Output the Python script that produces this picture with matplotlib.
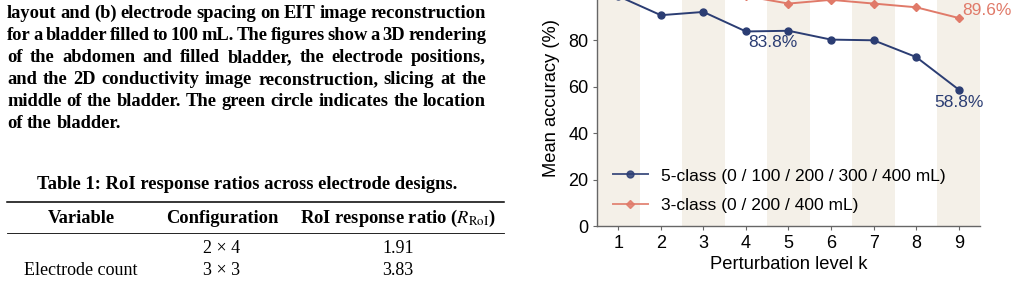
import matplotlib
matplotlib.use("Agg")
import matplotlib.pyplot as plt

# chart data
levels = [1, 2, 3, 4, 5, 6, 7, 8, 9]
acc_5class = [99.0, 90.8, 92.2, 83.8, 84.1, 80.3, 80.0, 72.8, 58.8]
acc_3class = [100.0, 100.0, 99.8, 99.0, 95.8, 97.4, 95.8, 94.2, 89.6]
label_5class = "5-class (0 / 100 / 200 / 300 / 400 mL)"
label_3class = "3-class (0 / 200 / 400 mL)"
yticks = [0, 20, 40, 60, 80, 100]

# page text on the left
caption_lines = [
    "layout and (b) electrode spacing on EIT image reconstruction",
    "for a bladder filled to 100 mL. The figures show a 3D rendering",
    "of the abdomen and filled bladder, the electrode positions,",
    "and the 2D conductivity image reconstruction, slicing at the",
    "middle of the bladder. The green circle indicates the location",
    "of the bladder.",
]
table_title = "Table 1: RoI response ratios across electrode designs."
table_header = ["Variable", "Configuration", r"RoI response ratio ($R_{\mathrm{RoI}}$)"]
table_rows = [
    ["", "2 \u00d7 4", "1.91"],
    ["Electrode count", "3 \u00d7 3", "3.83"],
]

NAVY = "#2b3d73"
SALMON = "#e07a69"
BAND = "#f4f0e8"

W, H = 1016, 283
fig = plt.figure(figsize=(W / 100, H / 100), dpi=100)
plt.rcParams["mathtext.fontset"] = "stix"
renderer = fig.canvas.get_renderer()


def px(x, y):
    return x / W, 1 - y / H


serif = "Liberation Serif"


def justify(line, y, x0, x1, last=False, **kw):
    words = line.split()
    txts = [fig.text(0, 0, w, va="baseline", ha="left", **kw) for w in words]
    widths = [t.get_window_extent(renderer).width for t in txts]
    space = fig.text(0, 0, "a a", **kw)
    sp = space.get_window_extent(renderer).width
    space.remove()
    space = fig.text(0, 0, "aa", **kw)
    sp -= space.get_window_extent(renderer).width
    space.remove()
    gap = sp if last else (x1 - x0 - sum(widths)) / (len(words) - 1)
    x = x0
    for t, w in zip(txts, widths):
        t.set_position(px(x, y))
        x += w + gap


for i, line in enumerate(caption_lines):
    justify(line, 18.3 + 22.0 * i, 7, 486, last=(i == len(caption_lines) - 1),
            family=serif, weight="bold", fontsize=13.3)

# table
fig.text(*px(247, 189), table_title, family=serif, weight="bold",
         fontsize=13.4, ha="center", va="baseline")
fig.add_artist(plt.Line2D([7 / W, 504 / W], [1 - 201.7 / H] * 2, color="black", lw=1.1))
fig.add_artist(plt.Line2D([7 / W, 504 / W], [1 - 233.3 / H] * 2, color="black", lw=0.6))
col_x = [81, 222, 398]
for cx, h in zip(col_x, table_header):
    fig.text(*px(cx, 223.3), h, family=serif, weight="bold", fontsize=13.3,
             ha="center", va="baseline")
for ry, row in zip([253.3, 275.0], table_rows):
    for cx, cell in zip(col_x, row):
        fig.text(*px(cx, ry), cell, family=serif, fontsize=13,
                 ha="center", va="baseline")

# chart
sans = "Liberation Sans"
ax = fig.add_axes([597 / W, 1 - 226.3 / H, 383 / W, 255.75 / H])
for k in levels:
    if k % 2 == 1:
        ax.axvspan(k - 0.5, k + 0.5, color=BAND, lw=0, zorder=0)

ax.plot(levels, acc_5class, color=NAVY, lw=1.4, marker="o", ms=5,
        label=label_5class, zorder=3)
ax.plot(levels, acc_3class, color=SALMON, lw=1.4, marker="D", ms=4.5,
        label=label_3class, zorder=3)

ax.annotate(f"{acc_5class[3]:.1f}%", (levels[3], acc_5class[3]), xytext=(2, -8),
            textcoords="offset points", ha="left", va="center", color=NAVY,
            fontsize=12.5, family=sans)
ax.annotate(f"{acc_5class[8]:.1f}%", (levels[8], acc_5class[8]), xytext=(0, -9.6),
            textcoords="offset points", ha="center", va="center", color=NAVY,
            fontsize=12.5, family=sans)
ax.annotate(f"{acc_3class[8]:.1f}%", (levels[8], acc_3class[8]), xytext=(2.5, 5.3),
            textcoords="offset points", ha="left", va="center", color=SALMON,
            fontsize=12.5, family=sans, annotation_clip=False)

ax.set_xlim(0.5, 9.5)
ax.set_ylim(0, 110)
ax.set_xticks(levels)
ax.set_yticks(yticks)
for s in ["top", "right"]:
    ax.spines[s].set_visible(False)
for s in ["left", "bottom"]:
    ax.spines[s].set_color("#666666")
    ax.spines[s].set_linewidth(1.0)
ax.tick_params(length=3, width=0.8, color="#666666", labelsize=13, pad=3)
for lab in ax.get_xticklabels() + ax.get_yticklabels():
    lab.set_family(sans)
ax.set_xlabel("Perturbation level k", family=sans, fontsize=13.2, labelpad=3)
ax.set_ylabel("Mean accuracy (%)", family=sans, fontsize=13.2, labelpad=-1)

leg = ax.legend(loc="center left", bbox_to_anchor=(0.042, 0.14), frameon=False,
                prop={"family": sans, "size": 12.5}, numpoints=1, handlelength=2.0,
                handletextpad=0.75, labelspacing=0.8, borderaxespad=0, borderpad=0)
for h in leg.get_lines():
    h.set_alpha(0.85)

fig.savefig("out.png", dpi=100)
